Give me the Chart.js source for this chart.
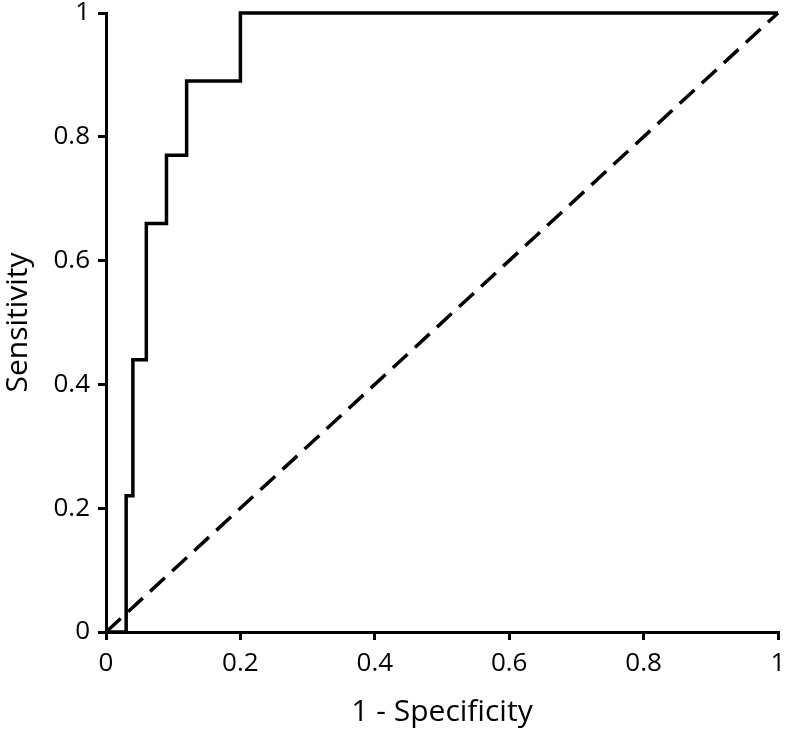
<!DOCTYPE html>
<html>
<head>
<meta charset="utf-8">
<script src="https://cdn.jsdelivr.net/npm/chart.js@4.4.1/dist/chart.umd.min.js"></script>
<style>
  html, body { margin: 0; padding: 0; background: #fff; }
  #wrap { width: 788px; height: 730px; }
</style>
</head>
<body>
<div id="wrap"><canvas id="roc"></canvas></div>
<script>
// ROC curve corners (1 - specificity, sensitivity)
const fpr = [0, 0.03, 0.04, 0.06, 0.09, 0.12, 0.2, 1];
const tpr = [0, 0.22, 0.44, 0.66, 0.77, 0.89, 1, 1];
// reference diagonal
const refX = [0, 1];
const refY = [0, 1];
const tickValues = [0, 0.2, 0.4, 0.6, 0.8, 1];

const fontFamily = "'Open Sans', sans-serif";

const ctx = document.getElementById("roc").getContext("2d");

new Chart(ctx, {
  type: "scatter",
  data: {
    datasets: [
      {
        label: "ROC",
        data: fpr.map((x, i) => ({ x: x, y: tpr[i] })),
        showLine: true,
        stepped: true,
        borderColor: "#000",
        borderWidth: 3.5,
        pointRadius: 0,
        fill: false,
        clip: false,
      },
      {
        label: "Reference",
        data: refX.map((x, i) => ({ x: x, y: refY[i] })),
        showLine: true,
        borderColor: "#000",
        borderWidth: 3.5,
        borderDash: [20, 10],
        pointRadius: 0,
        fill: false,
        clip: false,
      },
    ],
  },
  options: {
    responsive: true,
    maintainAspectRatio: false,
    animation: false,
    layout: { padding: { top: 13, right: 10, left: 0, bottom: 0 } },
    plugins: {
      legend: { display: false },
      tooltip: { enabled: false },
    },
    scales: {
      x: {
        type: "linear",
        min: 0,
        max: 1,
        afterBuildTicks: (scale) => {
          scale.ticks = tickValues.map((v) => ({ value: v }));
        },
        afterFit: (scale) => {
          scale.height = 98;
          scale.paddingLeft = 0;
          scale.paddingRight = 0;
        },
        ticks: {
          color: "#000",
          font: { family: fontFamily, size: 26 },
          padding: 8,
          maxRotation: 0,
          callback: (v) => String(Math.round(v * 10) / 10),
        },
        grid: {
          drawOnChartArea: false,
          drawTicks: true,
          tickLength: 8,
          color: "#000",
          lineWidth: 3,
        },
        border: { color: "#000", width: 3 },
        title: {
          display: true,
          text: "1 - Specificity",
          color: "#000",
          font: { family: fontFamily, size: 30 },
          padding: { top: 0, bottom: 0 },
        },
      },
      y: {
        type: "linear",
        min: 0,
        max: 1,
        afterBuildTicks: (scale) => {
          scale.ticks = tickValues.map((v) => ({ value: v }));
        },
        afterFit: (scale) => {
          scale.width = 106;
          scale.paddingTop = 0;
          scale.paddingBottom = 0;
        },
        ticks: {
          color: "#000",
          font: { family: fontFamily, size: 26 },
          padding: 8,
          callback: (v) => String(Math.round(v * 10) / 10),
        },
        grid: {
          drawOnChartArea: false,
          drawTicks: true,
          tickLength: 8,
          color: "#000",
          lineWidth: 3,
        },
        border: { color: "#000", width: 3 },
        title: {
          display: true,
          text: "Sensitivity",
          color: "#000",
          font: { family: fontFamily, size: 30 },
          padding: { top: 0, bottom: 0 },
        },
      },
    },
  },
});
</script>
</body>
</html>
